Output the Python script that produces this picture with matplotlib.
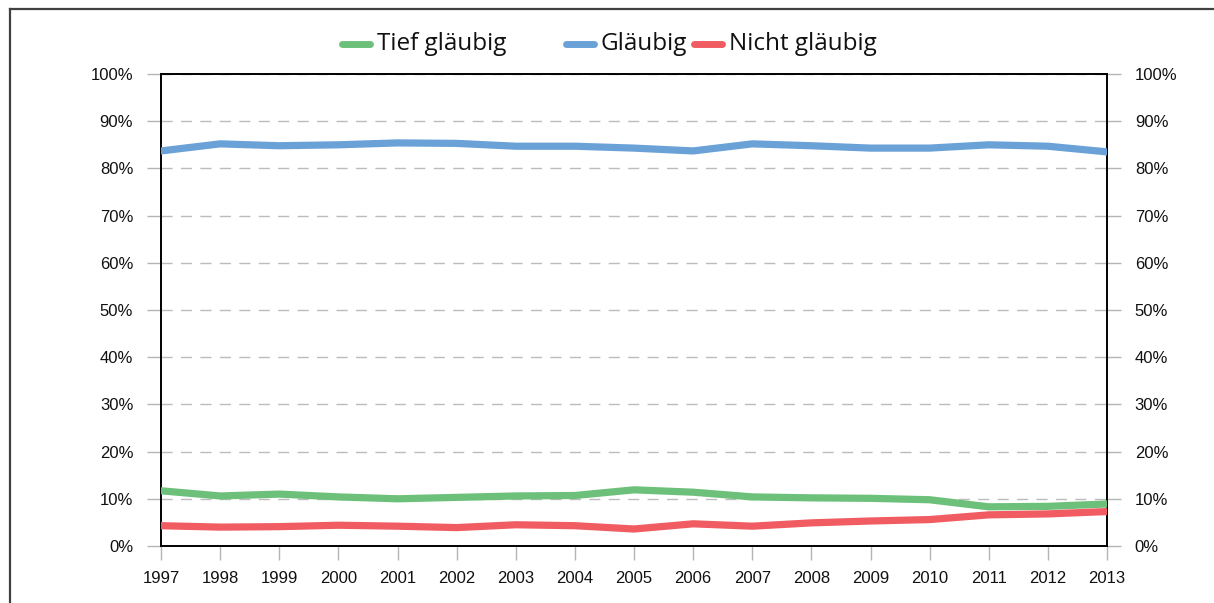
import numpy as np
import matplotlib.pyplot as plt
from matplotlib.lines import Line2D
from matplotlib.ticker import FuncFormatter, MultipleLocator

# ---------- data ----------
years = list(range(1997, 2014))
tief_glaeubig = [11.7, 10.6, 11.0, 10.4, 10.0, 10.3, 10.6, 10.7, 11.9, 11.4,
                 10.4, 10.2, 10.1, 9.8, 8.3, 8.4, 8.9]
glaeubig = [83.7, 85.2, 84.8, 85.0, 85.4, 85.3, 84.7, 84.7, 84.3, 83.7,
            85.2, 84.8, 84.3, 84.3, 85.0, 84.7, 83.5]
nicht_glaeubig = [4.3, 4.0, 4.1, 4.4, 4.2, 3.9, 4.5, 4.3, 3.6, 4.7,
                  4.2, 4.9, 5.3, 5.6, 6.6, 6.8, 7.3]

series_names = ["Tief gläubig", "Gläubig", "Nicht gläubig"]
series_values = [tief_glaeubig, glaeubig, nicht_glaeubig]
colors = ["#6cc07a", "#6aa2d8", "#f05c62"]

plt.rcParams['font.family'] = ['Liberation Sans', 'DejaVu Sans']

W, H = 1214, 603
fig = plt.figure(figsize=(W / 100, H / 100), dpi=100)
ax = fig.add_axes([161 / W, 1 - 546 / H, (1107 - 161) / W, (546 - 74) / H])

for vals, c in zip(series_values, colors):
    ax.plot(years, vals, color=c, lw=5.2, solid_capstyle='round',
            solid_joinstyle='round', zorder=3)

ax.set_xlim(years[0], years[-1])
ax.set_ylim(0, 100)
ax.set_xticks(years)
ax.yaxis.set_major_locator(MultipleLocator(10))
ax.yaxis.set_major_formatter(FuncFormatter(lambda v, p: f"{v:.0f}%"))

ax.grid(axis='y', color='#bcbcbc', lw=1.0, ls=(0, (8, 6)), zorder=1)
for s in ax.spines.values():
    s.set_color('black')
    s.set_linewidth(1.4)

ax.tick_params(axis='both', direction='out', length=10, width=1.0,
               color='#b4b4b4', labelsize=12, labelcolor='#111111')
ax.tick_params(axis='y', pad=10, right=True, labelright=True)
ax.tick_params(axis='x', pad=8)

# ---------- legend (manual, spacing as in the reference) ----------
leg_y = 1 - 44 / H
handle_x = [(342, 370), (566, 594), (694, 722)]
text_x = [377, 600, 729]
for (x0, x1), tx, name, c in zip(handle_x, text_x, series_names, colors):
    fig.add_artist(Line2D([x0 / W, x1 / W], [leg_y, leg_y], color=c, lw=5,
                          solid_capstyle='round', transform=fig.transFigure))
    fig.text(tx / W, leg_y, name, fontsize=17.5, va='center', ha='left',
             family=['Open Sans', 'DejaVu Sans'], color='#111111')

# ---------- outer frame ----------
fig.add_artist(Line2D([9.5 / W, 9.5 / W], [0, 1 - 8.5 / H], color='#404040',
                      lw=1.6, transform=fig.transFigure))
fig.add_artist(Line2D([9.5 / W, 1213 / W], [1 - 8.5 / H, 1 - 8.5 / H],
                      color='#404040', lw=1.6, transform=fig.transFigure))

fig.savefig("out.png", dpi=100)
